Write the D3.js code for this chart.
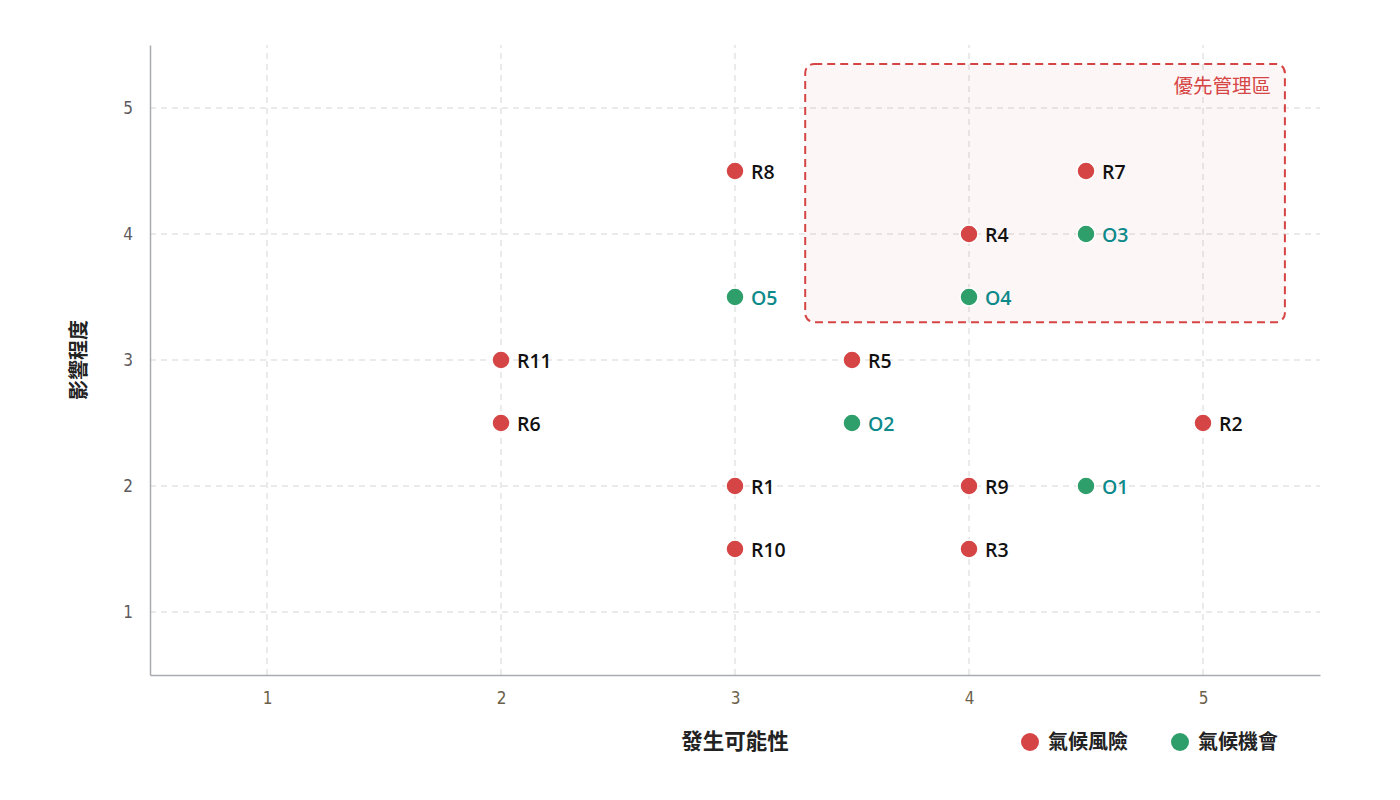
<!DOCTYPE html>
<html><head><meta charset="utf-8">
<script src="https://cdn.jsdelivr.net/npm/d3@7"></script>
<style>body{margin:0;background:#fff;font-family:"Noto Sans","Noto Sans CJK TC",sans-serif;}</style>
</head><body><svg id="c" width="1400" height="800"></svg>
<script>
const riskIds = ["R1","R2","R3","R4","R5","R6","R7","R8","R9","R10","R11"];
const riskLikelihood = [3,5,4,4,3.5,2,4.5,3,4,3,2];
const riskImpact = [2,2.5,1.5,4,3,2.5,4.5,4.5,2,1.5,3];
const oppIds = ["O1","O2","O3","O4","O5"];
const oppLikelihood = [4.5,3.5,4.5,4,3];
const oppImpact = [2,2.5,4,3.5,3.5];
const tickValues = [1,2,3,4,5];
const zone = {x0:3.3,x1:5.35,y0:3.3,y1:5.35,label:"優先管理區"};
const seriesNames = ["氣候風險","氣候機會"];

const svg = d3.select("#c");
const x = d3.scaleLinear().domain([0.5,5.5]).range([150,1320]);
const y = d3.scaleLinear().domain([0.5,5.5]).range([675,45]);
const red="#d64545", green="#2e9e6a", teal="#0e8a8a";
const cjk = '"Noto Sans CJK TC","Noto Sans",sans-serif';

// grid
svg.append("g").selectAll("line").data(tickValues).join("line")
 .attr("x1",d=>x(d)).attr("x2",d=>x(d)).attr("y1",y(0.5)).attr("y2",y(5.5))
 .attr("stroke","#e3e3e3").attr("stroke-width",1.5).attr("stroke-dasharray","6,5");
svg.append("g").selectAll("line").data(tickValues).join("line")
 .attr("y1",d=>y(d)).attr("y2",d=>y(d)).attr("x1",x(0.5)).attr("x2",x(5.5))
 .attr("stroke","#e3e3e3").attr("stroke-width",1.5).attr("stroke-dasharray","6,5");

// zone
svg.append("rect").attr("x",x(zone.x0)).attr("y",y(zone.y1))
 .attr("width",x(zone.x1)-x(zone.x0)).attr("height",y(zone.y0)-y(zone.y1))
 .attr("rx",9).attr("fill","rgba(214,69,69,0.05)").attr("stroke",red)
 .attr("stroke-width",2).attr("stroke-dasharray","8,5");
svg.append("text").attr("x",x(zone.x1)-14).attr("y",y(zone.y1)+29)
 .attr("text-anchor","end").attr("fill",red).attr("font-size",19.5)
 .attr("font-family",cjk).text(zone.label);

// axes
const xa = svg.append("g").attr("transform",`translate(0,${y(0.5)})`)
 .call(d3.axisBottom(x).tickValues(tickValues).tickFormat(d3.format("d")).tickSize(0).tickPadding(17));
const ya = svg.append("g").attr("transform",`translate(${x(0.5)},0)`)
 .call(d3.axisLeft(y).tickValues(tickValues).tickFormat(d3.format("d")).tickSize(0).tickPadding(17));
[xa,ya].forEach(a=>{
 a.select(".domain").attr("stroke","#a9abaf").attr("stroke-width",1.5);
 a.selectAll("text").attr("font-size",17).attr("font-weight",300)
  .attr("font-family",'"Liberation Sans Narrow","DejaVu Sans Condensed",sans-serif');
});
xa.selectAll("text").attr("fill","#6b6048");
ya.selectAll("text").attr("fill","#5e5a5c");

// titles
svg.append("text").attr("x",x(3)).attr("y",749).attr("text-anchor","middle")
 .attr("font-size",21.5).attr("font-weight",700).attr("fill","#222").attr("font-family",cjk).text("發生可能性");
svg.append("text").attr("transform",`translate(86,${y(3)}) rotate(-90)`).attr("text-anchor","middle")
 .attr("font-size",20).attr("font-weight",700).attr("fill","#222").attr("font-family",cjk).text("影響程度");

// points
function drawSeries(ids,lx,ly,fill,tcol){
 const g = svg.append("g");
 const d = ids.map((id,i)=>({id,x:lx[i],y:ly[i]}));
 g.selectAll("circle").data(d).join("circle").attr("cx",p=>x(p.x)).attr("cy",p=>y(p.y))
  .attr("r",9).attr("fill",fill).attr("stroke","#fff").attr("stroke-width",1.5);
 g.selectAll("text").data(d).join("text").attr("x",p=>x(p.x)+16).attr("y",p=>y(p.y)+1)
  .attr("dy","0.35em").attr("font-size",19.5).attr("font-weight",600).attr("fill",tcol)
  .attr("font-family",'"Open Sans","Noto Sans",sans-serif').text(p=>p.id);
}
drawSeries(riskIds,riskLikelihood,riskImpact,red,"#111");
drawSeries(oppIds,oppLikelihood,oppImpact,green,teal);

// legend
const leg = [{n:seriesNames[0],c:red,x:1030},{n:seriesNames[1],c:green,x:1180}];
leg.forEach(l=>{
 svg.append("circle").attr("cx",l.x).attr("cy",742).attr("r",9).attr("fill",l.c);
 svg.append("text").attr("x",l.x+18).attr("y",742).attr("dy","0.35em").attr("font-size",20)
  .attr("font-weight",700).attr("fill","#222").attr("font-family",cjk).text(l.n);
});
</script></body></html>
